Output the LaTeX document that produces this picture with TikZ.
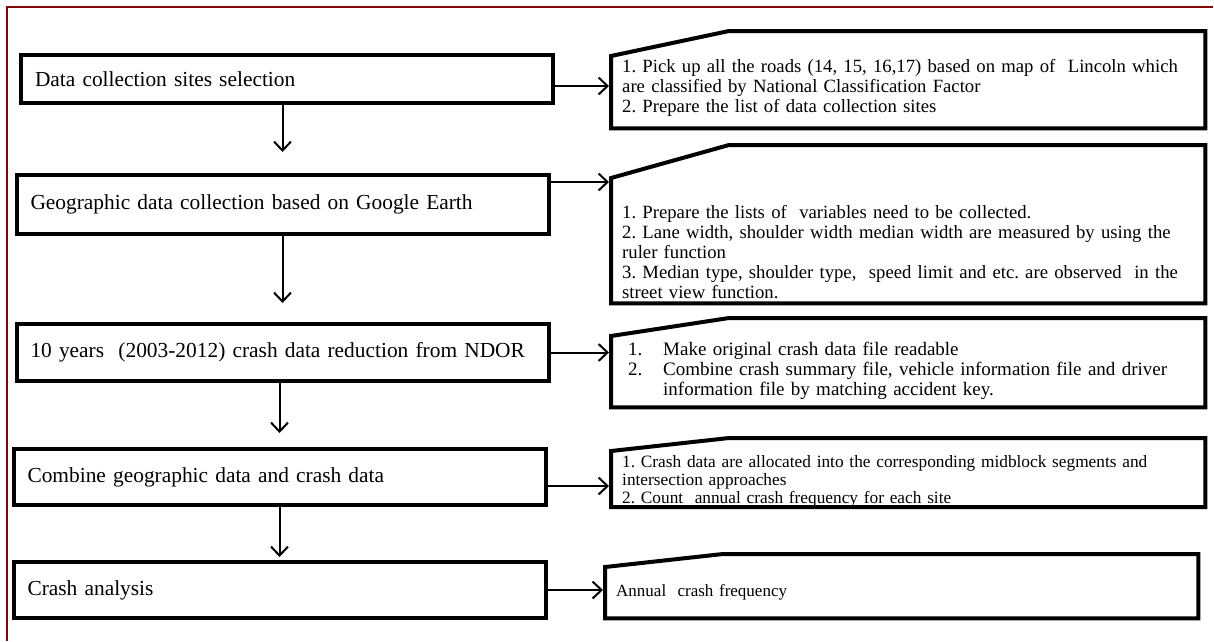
\documentclass[tikz,border=0pt]{standalone}
\usepackage{fontspec}
\setmainfont{Liberation Serif}
\usetikzlibrary{arrows.meta,positioning,calc}
\definecolor{framered}{RGB}{128,10,10}
\tikzset{
        stage/.style = {draw, fill=white, rectangle, line width=4pt, minimum width=532pt, text width=504pt, inner xsep=14pt, align=left, font=\fontsize{21.4pt}{24pt}\selectfont},
        note/.style = {rectangle, anchor=north west, text width=572pt, inner xsep=11pt, inner ysep=0pt, align=left, font=\fontsize{18.7pt}{20pt}\selectfont},
        outline/.style = {draw, line width=4pt, line join=miter},
        line/.style={draw, line width=2pt, -{Straight Barb[length=9pt,width=17pt]}}}
\frenchspacing

\begin{document}
\begin{tikzpicture}[x=1pt, y=1pt]
            \useasboundingbox (0,0) rectangle (1214,-641);
            \draw[framered, line width=2pt] (7,-641) -- (7,-7) -- (1213,-7);

            % steps on the left
            \node [stage, minimum height=48pt] (sel) at (287,-79) {Data collection sites selection};
            \node [stage, minimum height=59pt, below=68pt of sel, xshift=-4.5pt] (geo) {Geographic data collection based on Google Earth};
            \node [stage, minimum height=57pt, below=86pt of geo] (red) {10 years\ \ (2003-2012) crash data reduction from NDOR};
            \node [stage, minimum height=56pt, below=64pt of red, xshift=-3pt] (comb) {Combine geographic data and crash data};
            \node [stage, minimum height=56pt, below=53pt of comb] (ana) {Crash analysis};

            % notes on the right
            \node [note, minimum height=80pt] (selnote) at (611,-48) {1. Pick up all the roads (14, 15, 16,17) based on map of\ \ Lincoln which\\ are classified by National Classification Factor\\ 2. Prepare the list of data collection sites};
            \node [note, minimum height=103pt] (geonote) at (611,-200) {1. Prepare the lists of\ \ variables need to be collected.\\ 2. Lane width, shoulder width median width are measured by using the\\ ruler function\\ 3. Median type, shoulder type,\ \ speed limit and etc. are observed\ \ in the\\ street view function.};
            \node [note, minimum height=71pt, font=\fontsize{19pt}{20pt}\selectfont] (rednote) at (611,-336) {\begin{tabular}{@{\hspace{6pt}}p{35pt}@{}l@{}}
                1. & Make original crash data file readable\\
                2. & Combine crash summary file, vehicle information file and driver\\
                   & information file by matching accident key.
                \end{tabular}};
            \node [note, minimum height=47pt, font=\fontsize{17.3pt}{18pt}\selectfont] (combnote) at (611,-455) {1. Crash data are allocated into the corresponding midblock segments and\\ intersection approaches\\ 2. Count\ \ annual crash frequency for each site};
            \node [note, minimum height=51pt, text width=571pt, font=\fontsize{17pt}{20pt}\selectfont] (ananote) at (605,-567) {Annual\ \ crash frequency};

            \foreach \n/\c/\t in {selnote/-8/17, geonote/22/55, rednote/0/18, combnote/4/17, ananote/0/13}
              \draw[outline] ($(\n.north west)+(0,\c)$) -- ($(\n.north west)+(118,\t)$) -- ($(\n.north east)+(0,\t)$) -- (\n.south east) -- (\n.south west) -- cycle;

            \coordinate (a1) at ($(sel.east)+(0,-7)$);
            \coordinate (a2) at ($(geo.north east)+(0,-9)$);
            \coordinate (a4) at ($(comb.east)+(0,-9)$);

            \begin{scope}[line]
            \draw[shorten >=21pt] (geo.north |- sel.south) -- (geo.north);
            \draw[shorten >=19pt] (red.north |- geo.south) -- (red.north);
            \draw[shorten >=14pt] (comb.north |- red.south) -- (comb.north);
            \draw[shorten >=3pt] (ana.north |- comb.south) -- (ana.north);
            \draw[shorten >=2pt] (a1) -- (a1 -| selnote.west);
            \draw[shorten >=2pt] (a2) -- (a2 -| geonote.west);
            \draw[shorten >=2pt] (red.east) -- (red.east -| rednote.west);
            \draw[shorten >=2pt] (a4) -- (a4 -| combnote.west);
            \draw[shorten >=2pt] (ana.east) -- (ana.east -| ananote.west);
            \end{scope}
    \end{tikzpicture}
\end{document}
